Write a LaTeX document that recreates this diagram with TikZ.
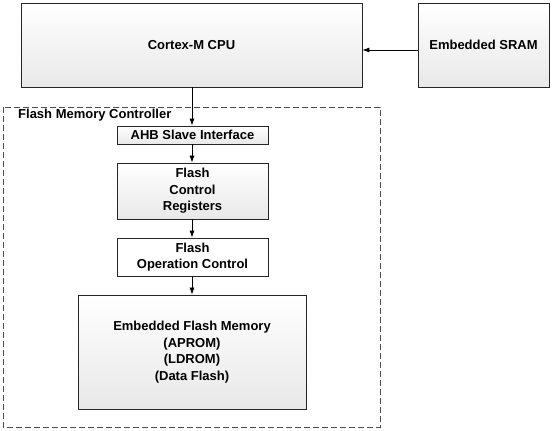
\documentclass[tikz,border=0pt]{standalone}
\usepackage{fontspec}
\setmainfont{Liberation Sans}
\usetikzlibrary{arrows.meta,shadows}
\begin{document}
\begin{tikzpicture}[x=1pt,y=-1pt,
  blk/.style={draw=black!85,line width=0.8pt,top color=white,bottom color=black!9,
    drop shadow={shadow xshift=1pt,shadow yshift=-1pt,fill=black!45,opacity=0.8},
    font=\bfseries\fontsize{13}{16.5}\selectfont,align=center,inner sep=0pt},
  wblk/.style={blk,top color=white,bottom color=white},
  conn/.style={line width=0.7pt,-{Latex[length=7pt,width=5pt]}},
  ctrl/.style={draw=black!70,line width=0.8pt,dash pattern=on 6pt off 3pt}]
\useasboundingbox (0,0) rectangle (555,431);
\node[blk,minimum width=341pt,minimum height=84pt] (cpu) at (191.5,45) {Cortex-M CPU};
\node[blk,minimum width=131pt,minimum height=84pt] (sram) at (483.5,45) {Embedded SRAM};
\draw[ctrl] (3,107) rectangle (380,427);
\node[anchor=north west,inner sep=0pt,font=\bfseries\fontsize{13}{15}\selectfont] (fmc) at (18,109) {Flash Memory Controller};
\node[blk,minimum width=151pt,minimum height=18pt] (ahb) at (192.5,135) {AHB Slave Interface};
\node[blk,minimum width=151pt,minimum height=56pt] (fcr) at (192.5,191) {Flash\\Control\\Registers};
\node[wblk,minimum width=151pt,minimum height=38pt] (foc) at (192.5,257) {Flash\\Operation Control};
\node[blk,minimum width=228pt,minimum height=114pt] (efm) at (192,352) {Embedded Flash Memory\\(APROM)\\(LDROM)\\(Data Flash)};
\coordinate (a1) at (sram.west |- 0,50);
\draw[conn] (a1) -- (a1 -| cpu.east);
\draw[conn] (cpu.south -| 192,0) -- (ahb.north -| 192,0);
\draw[conn] (ahb.south -| 192,0) -- (fcr.north -| 192,0);
\draw[conn] (fcr.south -| 192,0) -- (foc.north -| 192,0);
\draw[conn] (foc.south -| 192,0) -- (efm.north -| 192,0);
\end{tikzpicture}
\end{document}
